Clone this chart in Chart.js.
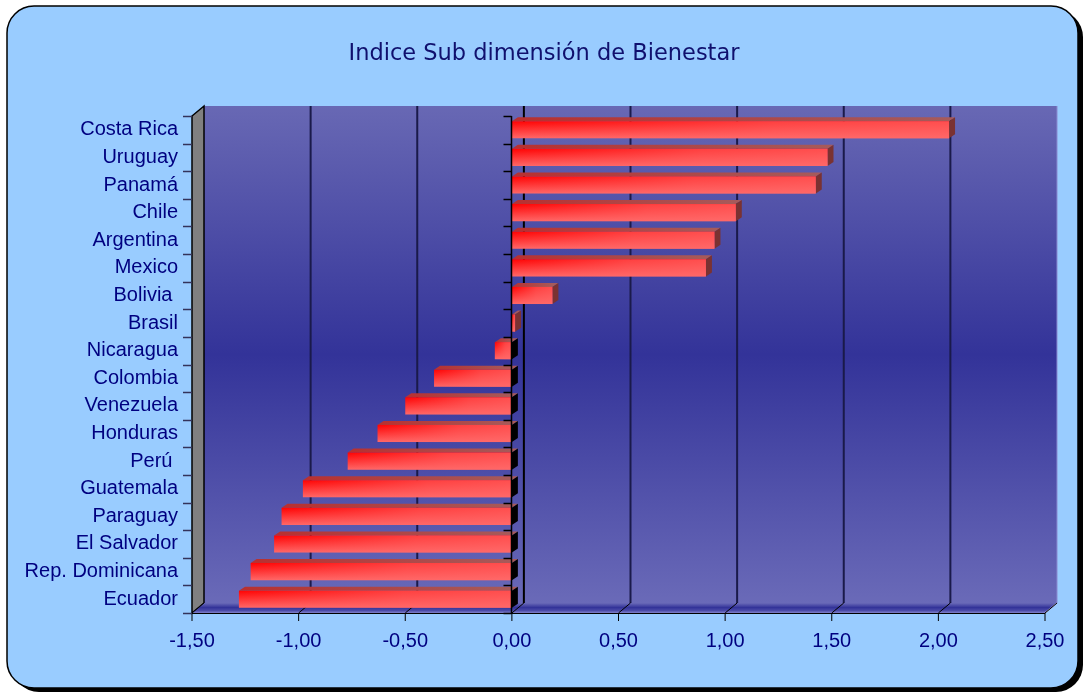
<!DOCTYPE html>
<html>
<head>
<meta charset="utf-8">
<script src="https://cdn.jsdelivr.net/npm/chart.js@4/dist/chart.umd.min.js"></script>
<style>
  html, body { margin: 0; padding: 0; background: #ffffff; }
  #wrap { width: 1085px; height: 695px; }
</style>
</head>
<body>
<div id="wrap"><canvas id="c" width="1085" height="695"></canvas></div>
<script>
const titleText = 'Indice Sub dimensión de Bienestar';
const categories = ['Costa Rica', 'Uruguay', 'Panamá', 'Chile', 'Argentina', 'Mexico', 'Bolivia ', 'Brasil',
  'Nicaragua', 'Colombia', 'Venezuela', 'Honduras', 'Perú ', 'Guatemala', 'Paraguay', 'El Salvador',
  'Rep. Dominicana', 'Ecuador'];
const values = [2.05, 1.48, 1.425, 1.05, 0.95, 0.91, 0.19, 0.015,
  -0.08, -0.365, -0.50, -0.63, -0.77, -0.98, -1.08, -1.115, -1.225, -1.28];
const xMin = -1.5, xMax = 2.5, xStep = 0.5;

const NAVY = '#000080';
const DX = 12, DY = -10;      // wall depth offset
const BDX = 6, BDY = -4;      // bar depth offset

function rr(ctx, x, y, w, h, r) {
  ctx.beginPath();
  ctx.moveTo(x + r, y);
  ctx.lineTo(x + w - r, y);
  ctx.arcTo(x + w, y, x + w, y + r, r);
  ctx.lineTo(x + w, y + h - r);
  ctx.arcTo(x + w, y + h, x + w - r, y + h, r);
  ctx.lineTo(x + r, y + h);
  ctx.arcTo(x, y + h, x, y + h - r, r);
  ctx.lineTo(x, y + r);
  ctx.arcTo(x, y, x + r, y, r);
  ctx.closePath();
}
function poly(ctx, pts, fill, stroke, lw) {
  ctx.beginPath();
  ctx.moveTo(pts[0][0], pts[0][1]);
  for (let i = 1; i < pts.length; i++) ctx.lineTo(pts[i][0], pts[i][1]);
  ctx.closePath();
  if (fill) { ctx.fillStyle = fill; ctx.fill(); }
  if (stroke) { ctx.strokeStyle = stroke; ctx.lineWidth = lw || 1; ctx.stroke(); }
}
function line(ctx, x1, y1, x2, y2, color, lw) {
  ctx.beginPath(); ctx.moveTo(x1, y1); ctx.lineTo(x2, y2);
  ctx.strokeStyle = color; ctx.lineWidth = lw; ctx.stroke();
}
function tickValues() {
  const out = [];
  for (let i = 0; xMin + i * xStep <= xMax + 1e-9; i++) out.push(xMin + i * xStep);
  return out;
}

const framePlugin = {
  id: 'frame',
  beforeDraw(chart) {
    const ctx = chart.ctx;
    ctx.save();
    ctx.fillStyle = '#ffffff';
    ctx.fillRect(0, 0, chart.width, chart.height);
    rr(ctx, 12, 10, 1071, 682, 27);
    ctx.fillStyle = '#000000'; ctx.fill();
    rr(ctx, 7, 6, 1071, 682, 27);
    ctx.fillStyle = '#99CCFF'; ctx.fill();
    ctx.strokeStyle = '#000000'; ctx.lineWidth = 1.5; ctx.stroke();
    ctx.restore();
  }
};

const threeDPlugin = {
  id: 'threeD',
  beforeDatasetsDraw(chart) {
    const ctx = chart.ctx;
    const { left: L, right: R, top: T, bottom: B } = chart.chartArea;
    const xs = chart.scales.x;
    ctx.save();
    // back wall
    const g = ctx.createLinearGradient(0, T + DY, 0, B + DY);
    g.addColorStop(0, '#6868b4');
    g.addColorStop(0.5, '#333399');
    g.addColorStop(1, '#6a6ab8');
    ctx.fillStyle = g;
    ctx.fillRect(L + DX, T + DY, R - L, B - T);
    // gridlines on back wall
    tickValues().forEach(v => {
      if (Math.abs(v - xMin) < 1e-9 || Math.abs(v - xMax) < 1e-9) return;
      const x = xs.getPixelForValue(v) + DX;
      line(ctx, x, T + DY, x, B + DY, Math.abs(v) < 1e-9 ? '#000000' : '#1a1a4a', 2);
    });
    // left wall
    poly(ctx, [[L, T], [L + DX, T + DY], [L + DX, B + DY], [L, B]], '#808080', '#000000', 1.5);
    // floor
    const fg = ctx.createLinearGradient(0, B + DY, 0, B);
    fg.addColorStop(0, '#6a6ab8');
    fg.addColorStop(0.45, '#333399');
    fg.addColorStop(0.75, '#4a4aa8');
    fg.addColorStop(1, '#8080cc');
    poly(ctx, [[L, B], [R, B], [R + DX, B + DY], [L + DX, B + DY]], fg, null);
    line(ctx, R, B, R + DX, B + DY, '#b0b0e0', 1.5);
    line(ctx, R + DX, T + DY, R + DX, B + DY, '#8a8ad0', 1);
    // floor diagonals, front axis line, tick marks
    tickValues().forEach(v => {
      const x = xs.getPixelForValue(v);
      line(ctx, x + DX, B + DY, x, B, '#000000', 1);
      line(ctx, x, B, x, B + 8, '#000000', 1);
    });
    line(ctx, L, B + 0.5, R, B + 0.5, '#000000', 1.2);
    // category tick marks on left wall
    const n = categories.length, step = (B - T) / n;
    for (let i = 0; i <= n; i++) {
      const y = Math.round(T + i * step) + 0.5;
      line(ctx, L - 9, y, L, y, '#33335a', 1.5);
    }
    // bar top & side faces
    const meta = chart.getDatasetMeta(0);
    meta.data.forEach((bar, i) => {
      const v = values[i];
      const x0 = Math.min(bar.x, bar.base), x1 = Math.max(bar.x, bar.base);
      const yt = bar.y - bar.height / 2, yb = bar.y + bar.height / 2;
      const tg = ctx.createLinearGradient(x0, 0, x1, 0);
      tg.addColorStop(0, '#b83030');
      tg.addColorStop(1, '#a65a5a');
      poly(ctx, [[x0, yt], [x1, yt], [x1 + BDX, yt + BDY], [x0 + BDX, yt + BDY]], tg, null);
      poly(ctx, [[x1, yt], [x1 + BDX, yt + BDY], [x1 + BDX, yb + BDY], [x1, yb]], v < 0 ? '#000000' : '#7a3232', null);
    });
    ctx.restore();
  },
  afterDatasetsDraw(chart) {
    const ctx = chart.ctx;
    const { top: T, bottom: B } = chart.chartArea;
    const xs = chart.scales.x;
    ctx.save();
    const meta = chart.getDatasetMeta(0);
    meta.data.forEach(bar => {
      const x0 = Math.min(bar.x, bar.base), x1 = Math.max(bar.x, bar.base);
      const yt = bar.y - bar.height / 2;
      const hg = ctx.createLinearGradient(x0, 0, x1, 0);
      hg.addColorStop(0, 'rgba(255,104,104,0)');
      hg.addColorStop(0.6, 'rgba(255,104,104,0.6)');
      hg.addColorStop(1, 'rgba(255,104,104,0.75)');
      ctx.fillStyle = hg;
      ctx.fillRect(x0, yt, x1 - x0, bar.height);
    });
    // front zero axis with ticks
    const x0 = Math.round(xs.getPixelForValue(0)) - 0.5;
    line(ctx, x0, T, x0, B, '#000000', 1.5);
    const n = categories.length, step = (B - T) / n;
    for (let i = 0; i <= n; i++) {
      const y = Math.round(T + i * step) + 0.5;
      line(ctx, x0 - 8, y, x0, y, '#000000', 1.5);
    }
    ctx.restore();
  }
};

new Chart(document.getElementById('c'), {
  type: 'bar',
  data: {
    labels: categories,
    datasets: [{
      data: values,
      yAxisID: 'y',
      borderWidth: 0,
      barPercentage: 0.62,
      categoryPercentage: 1,
      backgroundColor(c) {
        const chart = c.chart;
        if (!chart.chartArea || c.type !== 'data') return '#ff3333';
        const yc = chart.scales.y.getPixelForValue(c.dataIndex);
        const g = chart.ctx.createLinearGradient(0, yc - 9, 0, yc + 9);
        g.addColorStop(0, '#ff0000');
        g.addColorStop(1, '#ff6a6a');
        return g;
      }
    }]
  },
  options: {
    indexAxis: 'y',
    responsive: false,
    animation: false,
    events: [],
    layout: { padding: { left: 18, right: 15, top: 0, bottom: 0 } },
    plugins: {
      legend: { display: false },
      tooltip: { enabled: false },
      title: {
        display: true,
        text: titleText,
        color: '#10106e',
        font: { family: '"DejaVu Sans", sans-serif', size: 22.5, weight: 'normal' },
        padding: { top: 41, bottom: 48 }
      }
    },
    scales: {
      x: {
        type: 'linear',
        min: xMin, max: xMax,
        grid: { display: false, drawTicks: false },
        border: { display: false },
        ticks: {
          stepSize: xStep,
          color: NAVY,
          padding: 16,
          font: { family: '"Liberation Sans", Arial, sans-serif', size: 20 },
          callback: v => Number(v).toFixed(2).replace('.', ',')
        },
        afterFit(s) { s.height = 82; }
      },
      y: {
        type: 'category',
        position: 'left',
        grid: { display: false, drawTicks: false },
        border: { display: false },
        ticks: {
          autoSkip: false,
          color: NAVY,
          padding: 14,
          font: { family: '"Liberation Sans", Arial, sans-serif', size: 20 }
        },
        afterFit(s) { s.width = 174; }
      },
      yRight: {
        type: 'category',
        position: 'right',
        grid: { display: false, drawTicks: false },
        border: { display: false },
        ticks: { display: false },
        afterFit(s) { s.width = 25; }
      }
    }
  },
  plugins: [framePlugin, threeDPlugin]
});
</script>
</body>
</html>
